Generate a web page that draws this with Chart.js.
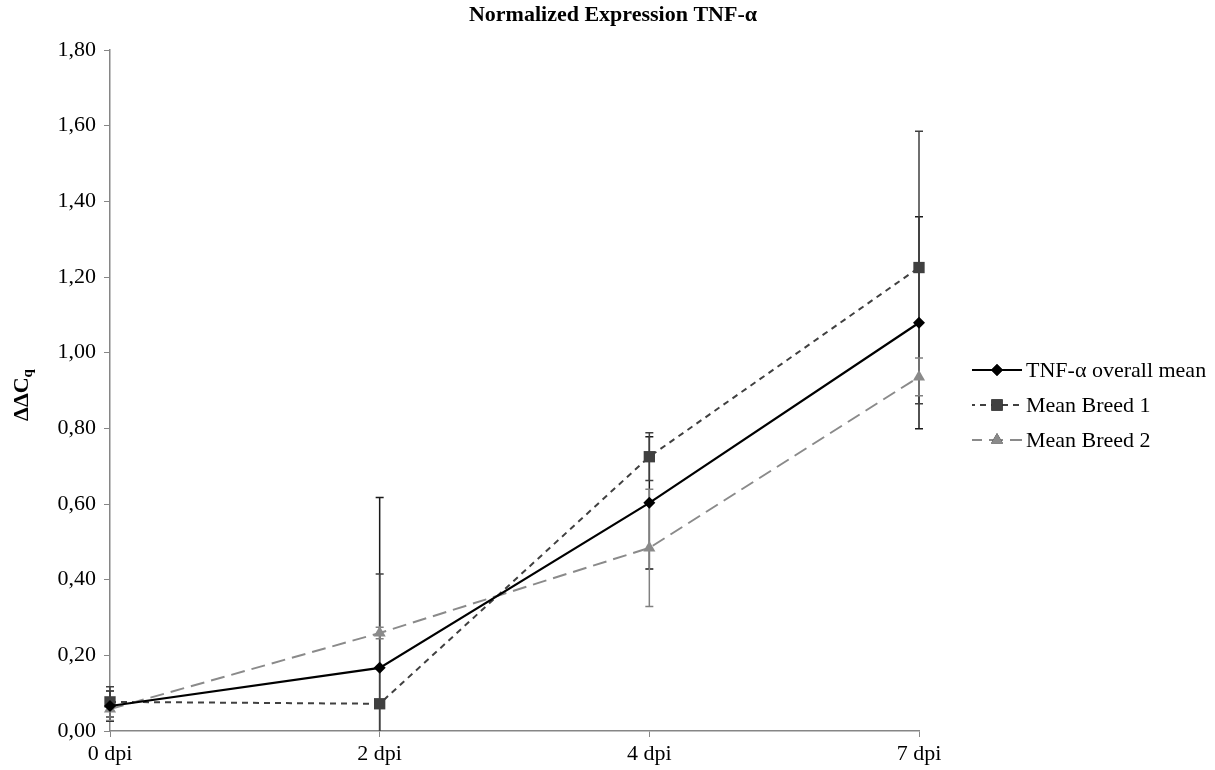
<!DOCTYPE html>
<html>
<head>
<meta charset="utf-8">
<script src="https://cdn.jsdelivr.net/npm/chart.js@4/dist/chart.umd.min.js"></script>
<style>
  body { margin: 0; background: #fff; }
  #wrap { width: 1215px; height: 770px; position: relative; }
</style>
</head>
<body>
<div id="wrap"><canvas id="grafico"></canvas></div>
<script>
// Categorias (dias pós-infecção)
var dias = ['0 dpi', '2 dpi', '4 dpi', '7 dpi'];

// Médias
var mediaGeral = [0.066, 0.167, 0.603, 1.079];
var mediaRaca1 = [0.077, 0.072, 0.725, 1.225];
var mediaRaca2 = [0.058, 0.259, 0.484, 0.936];

// Barras de erro (desvio) de cada série
var erroGeral = [0.04, 0.45, 0.175, 0.28];
var erroRaca1 = [0.04, 0.343, 0.063, 0.36];
var erroRaca2 = [0.03, 0.015, 0.155, 0.05];

var fonte = '"Liberation Serif", "Times New Roman", serif';

// Plugin que desenha as barras de erro usando as escalas do gráfico
var barrasErro = {
    id: 'barrasErro',
    beforeDatasetsDraw: function(chart) {
        var ctx = chart.ctx;
        var area = chart.chartArea;
        ctx.save();
        ctx.beginPath();
        ctx.rect(area.left - 10, area.top - 10, area.right - area.left + 20, area.bottom - area.top + 10);
        ctx.clip();
        chart.data.datasets.forEach(function(ds) {
            ds.erros.forEach(function(e, i) {
                var x = chart.scales.x.getPixelForValue(i);
                var yTop = chart.scales.y.getPixelForValue(ds.data[i] + e);
                var yBot = chart.scales.y.getPixelForValue(ds.data[i] - e);
                ctx.strokeStyle = ds.corErro;
                ctx.lineWidth = 1.5;
                ctx.beginPath();
                ctx.moveTo(x, yTop);
                ctx.lineTo(x, yBot);
                ctx.moveTo(x - 4, yTop);
                ctx.lineTo(x + 4, yTop);
                ctx.moveTo(x - 4, yBot);
                ctx.lineTo(x + 4, yBot);
                ctx.stroke();
            });
        });
        ctx.restore();
    }
};

// Plugin para título, rótulo do eixo Y e legenda
var textos = {
    id: 'textos',
    afterDraw: function(chart) {
        var ctx = chart.ctx;
        ctx.save();
        // Título
        ctx.fillStyle = '#000';
        ctx.font = 'bold 22px ' + fonte;
        ctx.textAlign = 'center';
        ctx.textBaseline = 'middle';
        ctx.fillText('Normalized Expression TNF-α', 613, 15);

        // Rótulo do eixo Y (ΔΔCq com subscrito)
        ctx.translate(22, 395);
        ctx.rotate(-Math.PI / 2);
        ctx.font = 'bold 22px ' + fonte;
        var w1 = ctx.measureText('ΔΔC').width;
        ctx.font = 'bold 15px ' + fonte;
        var w2 = ctx.measureText('q').width;
        ctx.textAlign = 'left';
        ctx.font = 'bold 22px ' + fonte;
        ctx.fillText('ΔΔC', -(w1 + w2) / 2, 0);
        ctx.font = 'bold 15px ' + fonte;
        ctx.fillText('q', -(w1 + w2) / 2 + w1, 6);
        ctx.setTransform(1, 0, 0, 1, 0, 0);

        // Legenda
        var linhas = [370, 405, 440];
        var offsets = [0, 3, 4];
        chart.data.datasets.forEach(function(ds, i) {
            var y = linhas[i];
            ctx.strokeStyle = ds.borderColor;
            ctx.lineWidth = ds.borderWidth;
            ctx.setLineDash(ds.borderDash || []);
            ctx.lineDashOffset = offsets[i];
            ctx.beginPath();
            ctx.moveTo(972, y);
            ctx.lineTo(1022, y);
            ctx.stroke();
            ctx.setLineDash([]);
            Chart.helpers.drawPoint(ctx, {
                pointStyle: ds.pointStyle,
                radius: ds.pointRadius,
                rotation: 0
            }, 997, y);
            ctx.fillStyle = ds.pointBackgroundColor;
            ctx.fill();
            ctx.fillStyle = '#000';
            ctx.font = '22px ' + fonte;
            ctx.textAlign = 'left';
            ctx.textBaseline = 'middle';
            ctx.fillText(ds.label, 1026, y + 1);
        });
        ctx.restore();
    }
};

var ctx = document.getElementById('grafico').getContext('2d');

var grafico = new Chart(ctx, {
    type: 'line',
    data: {
        labels: dias,
        datasets: [{
            label: 'TNF-α overall mean',
            data: mediaGeral,
            erros: erroGeral,
            corErro: '#1a1a1a',
            borderColor: '#000000',
            borderWidth: 2.2,
            pointStyle: 'rectRot',
            pointRadius: 6,
            pointBackgroundColor: '#000000',
            pointBorderWidth: 0,
            order: 1
        }, {
            label: 'Mean Breed 1',
            data: mediaRaca1,
            erros: erroRaca1,
            corErro: '#404040',
            borderColor: '#404040',
            borderWidth: 2,
            borderDash: [6, 5],
            pointStyle: 'rect',
            pointRadius: 8,
            pointBackgroundColor: '#404040',
            pointBorderWidth: 0,
            order: 3
        }, {
            label: 'Mean Breed 2',
            data: mediaRaca2,
            erros: erroRaca2,
            corErro: '#808080',
            borderColor: '#8a8a8a',
            borderWidth: 2,
            borderDash: [14, 7],
            pointStyle: 'triangle',
            pointRadius: 7,
            pointBackgroundColor: '#8a8a8a',
            pointBorderWidth: 0,
            order: 2
        }]
    },
    options: {
        responsive: true,
        maintainAspectRatio: false,
        animation: false,
        layout: {
            padding: { top: 50, right: 296, left: 0, bottom: 0 }
        },
        plugins: {
            legend: { display: false },
            title: { display: false },
            tooltip: { enabled: false }
        },
        elements: { line: { tension: 0 } },
        scales: {
            x: {
                offset: false,
                grid: { drawOnChartArea: false, drawTicks: true, tickLength: 6, color: '#868686' },
                border: { color: '#868686', width: 1.5 },
                ticks: { color: '#000', font: { family: fonte, size: 22 }, padding: 4, maxRotation: 0 },
                afterFit: function(scale) { scale.height = 39; }
            },
            y: {
                min: 0,
                max: 1.8,
                grid: { drawOnChartArea: false, drawTicks: true, tickLength: 6, color: '#868686' },
                border: { color: '#868686', width: 1.5 },
                ticks: {
                    stepSize: 0.2,
                    color: '#000',
                    font: { family: fonte, size: 22 },
                    padding: 8,
                    callback: function(v) { return v.toFixed(2).replace('.', ','); }
                },
                afterFit: function(scale) { scale.width = 110; }
            }
        }
    },
    plugins: [barrasErro, textos]
});
</script>
</body>
</html>
